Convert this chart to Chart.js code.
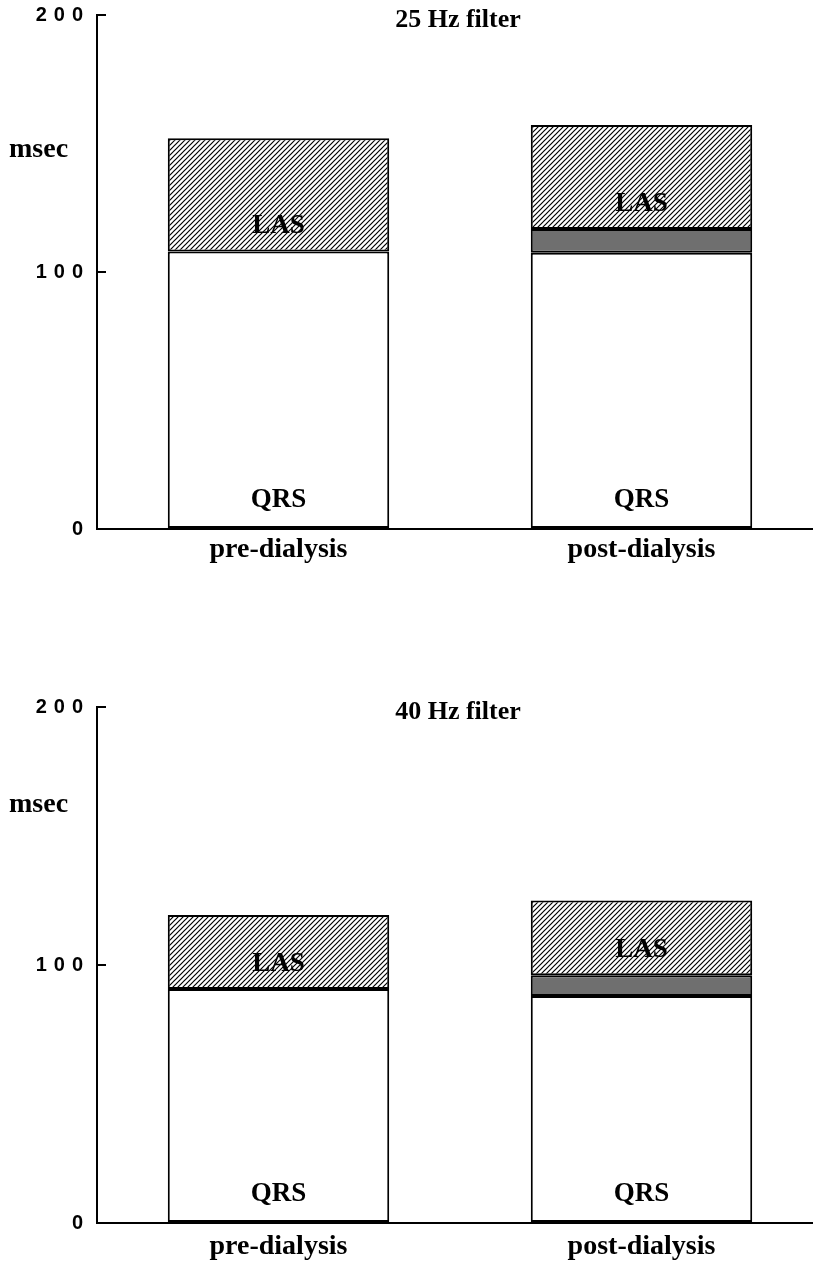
<!DOCTYPE html>
<html>
<head>
<meta charset="utf-8">
<script src="https://cdn.jsdelivr.net/npm/chart.js@4.4.1/dist/chart.umd.min.js"></script>
<style>
  html, body { margin: 0; padding: 0; background: #fff; overflow: hidden; }
  canvas { display: block; }
</style>
</head>
<body>
<canvas id="chart25" width="823" height="630"></canvas>
<canvas id="chart40" width="823" height="631"></canvas>
<script>
// data (msec)
const categories = ['pre-dialysis', 'post-dialysis'];
const yTicks = [0, 100, 200];

const qrs25 = [108, 107.5];
const shift25 = [0, 9.2];
const las25 = [44, 40.5];

const qrs40 = [90.7, 88];
const shift40 = [0, 8];
const las40 = [28.7, 29];

const serif = '"Liberation Serif", "Times New Roman", serif';

function hatchPattern() {
    const c = document.createElement('canvas');
    c.width = 5;
    c.height = 5;
    const g = c.getContext('2d');
    g.fillStyle = '#fff';
    g.fillRect(0, 0, 5, 5);
    g.strokeStyle = '#000';
    g.lineWidth = 1.2;
    g.beginPath();
    g.moveTo(0, 5); g.lineTo(5, 0);
    g.moveTo(-1, 1); g.lineTo(1, -1);
    g.moveTo(4, 6); g.lineTo(6, 4);
    g.stroke();
    return g.createPattern(c, 'repeat');
}

// labels inside the plot: title, unit, segment names
const textPlugin = {
    id: 'figText',
    beforeDraw(chart) {
        const ys = chart.scales.y;
        if (!ys.__spaced) {
            const orig = ys.drawLabels;
            ys.drawLabels = function (area) {
                const c = this.ctx;
                c.save();
                c.letterSpacing = '7px';
                orig.call(this, area);
                c.restore();
            };
            ys.__spaced = true;
        }
    },
    afterDatasetsDraw(chart, args, opts) {
        const ctx = chart.ctx;
        const area = chart.chartArea;
        const xs = chart.scales.x;
        const ys = chart.scales.y;
        const ds = chart.data.datasets;
        ctx.save();
        ctx.fillStyle = '#000';
        ctx.textBaseline = 'middle';

        ctx.textAlign = 'center';
        ctx.font = 'bold 26px ' + serif;
        ctx.fillText(opts.title, (area.left + area.right) / 2 - 2, area.top + 5);

        ctx.textAlign = 'left';
        ctx.font = 'bold 28px ' + serif;
        ctx.fillText('msec', 9, ys.getPixelForValue(opts.unitAt));

        ctx.textAlign = 'center';
        ctx.font = 'bold 27px ' + serif;
        categories.forEach((c, i) => {
            const x = xs.getPixelForValue(i);
            const lasBase = ds[0].data[i] + ds[1].data[i];
            ctx.fillText('LAS', x, ys.getPixelForValue(lasBase) - 25);
            ctx.fillText('QRS', x, area.bottom - 29);
        });
        ctx.restore();
    }
};

function makeChart(id, title, qrs, shift, las, box) {
    return new Chart(document.getElementById(id), {
        type: 'bar',
        data: {
            labels: categories,
            datasets: [
                { label: 'QRS', data: qrs, backgroundColor: '#fff' },
                { label: 'QRS prolongation', data: shift, backgroundColor: '#6f6f6f' },
                { label: 'LAS', data: las, backgroundColor: hatchPattern() }
            ].map(d => Object.assign(d, {
                borderColor: '#000',
                borderWidth: 2,
                borderSkipped: false,
                barPercentage: 1,
                categoryPercentage: 0.61
            }))
        },
        options: {
            responsive: false,
            animation: false,
            devicePixelRatio: 1,
            layout: { padding: { top: box.top, left: 0, right: 0, bottom: 0 } },
            plugins: {
                legend: { display: false },
                tooltip: { enabled: false },
                figText: { title: title, unitAt: box.unitAt }
            },
            scales: {
                x: {
                    stacked: true,
                    grid: { display: false },
                    border: { display: true, color: '#000', width: 2 },
                    ticks: {
                        color: '#000',
                        padding: box.labelPad,
                        font: { family: serif, size: 28, weight: 'bold' }
                    },
                    afterFit(scale) { scale.height = box.xHeight; }
                },
                y: {
                    stacked: true,
                    min: yTicks[0],
                    max: yTicks[yTicks.length - 1],
                    afterBuildTicks(scale) { scale.ticks = yTicks.map(v => ({ value: v })); },
                    grid: { drawOnChartArea: true, drawTicks: false, color: '#000', lineWidth: 2 },
                    border: { display: true, color: '#000', width: 2, dash: [8, 2000] },
                    ticks: {
                        color: '#000',
                        padding: 7,
                        font: { family: '"Liberation Sans", Arial, sans-serif', size: 20, weight: 'bold' }
                    },
                    afterFit(scale) {
                        scale.width = 97;
                        scale.paddingTop = 0;
                        scale.paddingBottom = 0;
                    }
                }
            }
        },
        plugins: [textPlugin]
    });
}

makeChart('chart25', '25 Hz filter', qrs25, shift25, las25,
    { top: 15, xHeight: 101, labelPad: -4, unitAt: 147.5 });
makeChart('chart40', '40 Hz filter', qrs40, shift40, las40,
    { top: 77, xHeight: 38, labelPad: -1, unitAt: 162 });
</script>
</body>
</html>
